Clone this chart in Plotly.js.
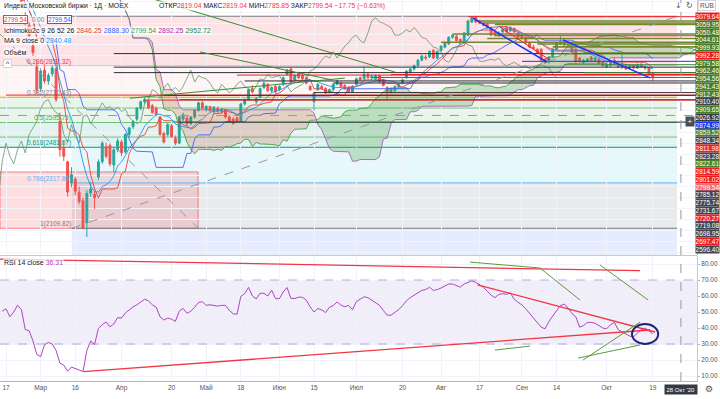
<!DOCTYPE html>
<html><head><meta charset="utf-8">
<script src="https://cdn.plot.ly/plotly-3.0.1.min.js"></script>
<style>html,body{margin:0;padding:0;background:#fff}#chart{width:720px;height:399px}</style>
</head><body><div id="chart"></div>
<script>
// ---------- DATA (daily bars, Feb 17 2020 = bar 0 ... Oct 19 2020 = bar 168) ----------
const barOpen = [3175,3185,3200,3220,3195,3085,3040,2945,2850,2750,
2835,2785,2818,2840,2600,2478,2414,2318,2335,2275,
2236,2135,2272,2265,2345,2415,2484,2490,2400,2470,
2505,2460,2540,2575,2610,2660,2690,2692,2672,2660,
2620,2545,2540,2580,2522,2500,2610,2615,2590,2620,
2650,2685,2655,2668,2645,2660,2645,2650,2620,2610,
2615,2600,2680,2700,2750,2690,2710,2755,2770,2740,
2760,2745,2770,2815,2840,2790,2820,2810,2800,2760,
2690,2745,2760,2750,2735,2745,2770,2775,2765,2755,
2735,2770,2800,2795,2815,2800,2795,2810,2790,2755,
2735,2740,2760,2775,2800,2825,2840,2855,2880,2895,
2895,2925,2890,2925,2940,2955,2985,2990,2975,2960,
2995,3055,3075,3060,3050,3045,3030,3010,2995,3010,
3030,3015,3025,3005,2995,2985,2960,2940,2930,2930,
2885,2870,2895,2930,2955,2965,2950,2940,2930,2890,
2870,2875,2895,2880,2885,2870,2850,2855,2880,2860,
2850,2855,2845,2855,2845,2858,2850,2845,2819.04];
const barHigh = [3195,3212,3232,3236,3205,3100,3055,2965,2882,2842,
2852,2822,2856,2850,2640,2512,2420,2390,2346,2302,
2252,2286,2322,2280,2426,2510,2502,2500,2482,2522,
2516,2545,2575,2605,2665,2695,2708,2700,2680,2668,
2625,2552,2592,2588,2535,2625,2640,2625,2625,2655,
2690,2692,2675,2672,2670,2668,2662,2655,2628,2618,
2622,2685,2705,2750,2765,2712,2755,2780,2775,2760,
2768,2765,2805,2840,2848,2815,2828,2818,2806,2766,
2735,2775,2768,2756,2750,2774,2790,2782,2770,2760,
2765,2800,2806,2850,2822,2815,2815,2815,2795,2760,
2755,2765,2775,2795,2835,2845,2860,2885,2905,2905,
2925,2932,2925,2948,2965,2990,3000,2996,2980,3010,
3065,3080,3081.68,3066,3058,3052,3035,3015,3012,3025,
3036,3035,3030,3010,3000,2990,2965,2950,2935,2936,
2890,2900,2935,2965,2990,2975,2958,2948,2936,2895,
2885,2890,2900,2895,2892,2875,2868,2875,2892,2872,
2906,2862,2858,2862,2865,2868,2855,2848,2819.04];
const barLow = [3160,3175,3190,3190,3140,3040,2980,2900,2728,2735,
2772,2768,2805,2688,2438,2418,2255,2298,2262,2220,
2105,2070,2254,2198,2330,2404,2430,2394,2368,2458,
2440,2452,2528,2565,2600,2650,2680,2655,2635,2622,
2535,2498,2530,2525,2490,2495,2600,2580,2582,2612,
2645,2652,2645,2642,2638,2640,2638,2612,2594,2585,
2595,2598,2672,2695,2728,2680,2705,2748,2735,2730,
2728,2738,2762,2810,2775,2782,2795,2790,2770,2740,
2650,2740,2745,2725,2728,2740,2765,2755,2745,2730,
2730,2765,2785,2790,2795,2790,2790,2775,2760,2700,
2728,2735,2752,2770,2795,2818,2832,2850,2875,2880,
2890,2885,2884,2918,2935,2950,2978,2965,2955,2955,
2990,3050,3050,3045,3035,3025,2990,2990,2988,3005,
3005,3010,3005,2980,2975,2955,2935,2928,2910,2875,
2862,2865,2890,2925,2950,2945,2940,2905,2868,2870,
2862,2870,2875,2875,2860,2850,2845,2850,2855,2845,
2840,2835,2838,2838,2840,2845,2835,2812,2785.85];
const barClose = [3185,3200,3222,3200,3150,3050,2992,2915,2745,2830,
2785,2810,2845,2700,2470,2440,2276,2355,2280,2232,
2112,2270,2290,2250,2414,2500,2440,2405,2470,2510,
2455,2540,2570,2600,2660,2690,2700,2662,2640,2630,
2540,2505,2585,2530,2500,2620,2630,2590,2620,2650,
2685,2660,2668,2650,2665,2645,2655,2620,2600,2590,
2600,2680,2700,2745,2735,2705,2750,2775,2740,2755,
2735,2760,2800,2835,2780,2810,2800,2795,2775,2745,
2730,2770,2750,2730,2745,2770,2785,2760,2750,2735,
2760,2795,2790,2815,2800,2805,2810,2780,2765,2735,
2750,2760,2770,2790,2830,2840,2855,2880,2900,2890,
2920,2890,2920,2945,2960,2985,2995,2970,2960,3005,
3060,3075,3055,3050,3040,3030,2995,2995,3005,3020,
3010,3030,3010,2985,2980,2960,2940,2935,2915,2880,
2870,2895,2930,2960,2965,2950,2945,2910,2875,2875,
2880,2885,2880,2890,2865,2855,2862,2870,2860,2850,
2855,2840,2852,2845,2860,2850,2845,2817.29,2799.54];
const rsiFirstBar = -1;
const rsiValues = [50.5,52.0,47,50,54.2,51.5,39,38.3,32,23.5,22.1,
29.5,31,30,26,18,16.8,13,15.6,14.8,14,
12.8,26,31.9,29.6,39.8,42,43.8,40.8,42.5,46.5,
46.2,49.4,51.5,53.2,54.5,56.2,58,57,54.5,53,
47,45,46.2,45.5,44.2,50.5,52.3,49.2,50.5,53,
56,56.4,54.2,54.5,54,53.7,54.1,54.2,51,48.9,
48.6,59.8,61.5,65.4,60,58.2,61.7,61.7,60,63.7,
58.4,58.3,62.5,65.3,58.5,58.5,59.3,59.2,57.4,53.2,
50,52.2,51.3,49.6,52.9,54,56.3,54.3,53.3,54.1,
51.5,56.5,58,59.5,59,57.5,56,54.2,51,48,
48,49.8,51.5,54,57,59,60.5,62,63.5,64,
65.5,63.5,64,65,66,67.5,67.5,66.5,65.5,67.5,
68.5,69.5,68.5,67,65.5,63,60.5,59,61,61.5,
61,62,58,56,54.5,52,49,46.5,43,40.5,
39.5,44,47.5,51,54,55,52.5,49,47,40.5,
41.5,43.5,43.5,43,41.5,40,39.5,42,43.5,39,
37.5,36,35,34.5,37,39,40,38,36.31];
// x-axis labels
const tickBars = [0,9,18,30,43,52,61,71,80,91,103,113,123,134,143,156,168];
const tickText = ['17','Мар','16','Апр','20','Май','18','Июн','15','Июл','20','Авг','17','Сен','14','Окт','19'];
// Fibonacci retracement (Mar low -> Aug high)
const fibLow = 2109.82, fibHigh = 3081.68, fibFromBar = 17.1, fibToBar = 174.3;
const fibRatios = [0, 0.236, 0.382, 0.5, 0.618, 0.786, 1, 1.618];
// horizontal price levels (price, first bar)
const levelPrices = [3079.64,3059.95,3050.48,3044.61,2999.93,2992.28,2979.58,2962.46,2954.56,2941.43,2912.43,2910.40,2909.65,2874.99,2859.52,2848.34,2811.98,2823.28,2822.61,2814.59,2801.02,2785.12,2775.74,2731.67,2720.27,2719.08,2698.95,2697.47,2596.40];
const levelFrom = [120,122,124,127,116,127,125,113,138,142,150,28,140,134,145,28,60,28,150,100,95,62,85,80,0,40,45,36,45];
const levelKind = ['red','olive','olive','olive','olive','red','olive','olive','olive','olive','olive','dark','green','blue','green','dark','red','dark','green','red','red','dark','dark','dark','red','dark','dark','red','dark'];
// price-scale labels as stacked in the picture
const scaleText = ['3079.64','3059.95','3050.48','3044.61','2999.93','2992.28','2979.58','2962.46','2954.56','2941.43','2912.43','2910.40','2909.65','2626.92','2874.99','2859.52','2848.34','2811.98','2823.28','2822.61','2814.59','2801.02','2799.54','2785.12','2775.74','2731.67','2720.27','2719.08','2698.95','2697.47','2596.40'];
const scaleKind = ['red','green','green','green','green','red','green','green','green','green','green','dark','green','cross','blue','green','dark','red','dark','green','red','red','last','dark','dark','dark','red','dark','dark','red','dark'];
// trend lines in price pane (bar0, price0, bar1, price1)
const trendBar0 = [17.1,-1.56,37.4,50.4,32.2,121.3,144.7,128.3];
const trendP0 = [2109.82,3000,3165,2918,2706,3073.6,2973,3032];
const trendBar1 = [174.3,49.9,101,84.9,88,140.5,167.3,141.3];
const trendP1 = [3081.68,2109.82,2826,2789,2798,2872,2799,2881];
const trendKind = ['grayDash','grayDash','green','green','green','blue','blue','red'];
// trend lines in RSI pane (bar0, value0, bar1, value1)
const rsiLineBar0 = [-1.56,20.1,122.5, 120.5,138.7,154.3,127,148.6,149.9];
const rsiLineV0 = [83.1,12.7,67, 81.2,77.5,79.4,26.2,21.2,20];
const rsiLineBar1 = [164.7,167.3,168.6, 138.7,149.1,166.8,136.1,164.7,164.7];
const rsiLineV1 = [75.8,38.75,37.5, 77.5,57.5,57.5,28.7,29.4,43.7];
const rsiLineKind = ['red','red','red','green','green','green','green','green','green'];
const crossBar = 175.3, crossPrice = 2626.92;

// ---------- STYLES ----------
const FONT = 'Liberation Sans, Arial, sans-serif';
const lineColor = {red:'#f01e23', olive:'#74862f', dark:'#2a2e39', green:'#3d8b2f', blue:'#1a35ff', grayDash:'#9598a1'};
const labelBg = {red:'#f01e23', green:'#4a7d27', dark:'#434651', blue:'#1a35ff', last:'#f46a6f', cross:'#363a45'};
const fibLineColor = ['#787b86','#f23645','#ff9800','#4caf50','#089981','#64b5f6','#787b86','#2962ff'];
const fibZoneColor = ['rgba(242,54,69,0.14)','rgba(242,120,100,0.07)','rgba(76,175,80,0.12)','rgba(8,153,129,0.12)','rgba(0,188,212,0.10)','rgba(120,123,134,0.16)','rgba(41,98,255,0.12)'];

// ---------- INDICATORS ----------
const N = barClose.length;
const bars = barClose.map((_, i) => i);
function donchian(len, i){let hi=-Infinity, lo=Infinity; for(let k=Math.max(0,i-len+1);k<=i;k++){ if(barHigh[k]>hi)hi=barHigh[k]; if(barLow[k]<lo)lo=barLow[k];} return (hi+lo)/2;}
const tenkan = bars.map(i=>donchian(9,i));
const kijun = bars.map(i=>donchian(26,i));
const shift = 25;
const leadX = bars.map(i=>i+shift);
const leadA = bars.map(i=>(tenkan[i]+kijun[i])/2);
const leadB = bars.map(i=>donchian(52,i));
const chikouX = bars.map(i=>i-shift);
const ma9 = bars.map(i=>{const k0=Math.max(0,i-8); let s=0; for(let k=k0;k<=i;k++) s+=barClose[k]; return s/(i-k0+1);});

const traces = [];
(function(){
  let start = 0; const up = i => leadA[i] >= leadB[i];
  for (let i=1;i<=N;i++){
    if (i===N || up(i)!==up(start)){
      const end = Math.min(i, N-1);
      const xs = leadX.slice(start,end+1);
      traces.push({x:xs,y:leadB.slice(start,end+1),mode:'lines',line:{width:0},hoverinfo:'skip',showlegend:false});
      traces.push({x:xs,y:leadA.slice(start,end+1),mode:'lines',line:{width:0},fill:'tonexty',
        fillcolor: up(start)?'rgba(67,160,71,0.28)':'rgba(200,80,60,0.22)',hoverinfo:'skip',showlegend:false});
      start = i;
    }
  }
})();
const ln = (x,y,color,w,yaxis) => ({x,y,mode:'lines',line:{color,width:w||1},hoverinfo:'skip',showlegend:false,yaxis:yaxis||'y'});
traces.push(ln(leadX,leadA,'rgba(67,160,71,0.9)'));
traces.push(ln(leadX,leadB,'rgba(156,90,190,0.85)'));
traces.push(ln(chikouX,barClose,'rgba(100,150,110,0.8)'));
traces.push(ln(bars,kijun,'rgba(61,90,254,0.85)'));
traces.push(ln(bars,tenkan,'rgba(229,57,53,0.85)'));
traces.push(ln(bars,ma9,'rgba(33,150,243,0.9)'));
traces.push({type:'candlestick',x:bars,open:barOpen,high:barHigh,low:barLow,close:barClose,
  increasing:{line:{color:'#26a69a',width:1},fillcolor:'#26a69a'},
  decreasing:{line:{color:'#ef5350',width:1},fillcolor:'#ef5350'},
  whiskerwidth:0,hoverinfo:'skip',showlegend:false});
traces.push(ln(rsiValues.map((_,k)=>k+rsiFirstBar),rsiValues,'#ab47bc',1,'y2'));

// ---------- SHAPES ----------
const shapes = [];
const xr = [-1.56, 179.48];
const fibP = r => fibHigh - r*(fibHigh-fibLow);
for (let k=0;k<fibRatios.length-1;k++){
  const left = k<4 ? xr[0] : fibFromBar;
  shapes.push({type:'rect',layer:'below',xref:'x',yref:'y',x0:left,x1:fibToBar,y0:fibP(fibRatios[k]),y1:fibP(fibRatios[k+1]),fillcolor:fibZoneColor[k],line:{width:0}});
}
shapes.push({type:'rect',layer:'below',xref:'x',yref:'y',x0:xr[0],x1:49.9,y0:2368,y1:fibLow,fillcolor:'rgba(242,54,69,0.16)',line:{color:'rgba(242,54,69,0.6)',width:1}});
fibRatios.forEach((r,k)=>{
  const left = (k>=1 && k<=4) ? xr[0] : fibFromBar;
  shapes.push({type:'line',layer:'below',xref:'x',yref:'y',x0:left,x1:fibToBar,y0:fibP(r),y1:fibP(r),line:{color:fibLineColor[k],width:1}});
});
[2661,2528].forEach(p=>shapes.push({type:'line',layer:'below',xref:'x',yref:'y',x0:xr[0],x1:fibToBar,y0:p,y1:p,line:{color:'rgba(76,175,80,0.7)',width:1}}));
levelPrices.forEach((p,k)=>{
  shapes.push({type:'line',xref:'x',yref:'y',x0:levelFrom[k],x1:xr[1],y0:p,y1:p,line:{color:lineColor[levelKind[k]],width:levelKind[k]==='olive'?1.6:1}});
});
trendBar0.forEach((b,k)=>{
  const kind = trendKind[k];
  shapes.push({type:'line',xref:'x',yref:'y',x0:b,y0:trendP0[k],x1:trendBar1[k],y1:trendP1[k],
    line:{color:lineColor[kind],width:kind==='blue'?1.5:1,dash:kind==='grayDash'?'dash':'solid'}});
});
shapes.push({type:'rect',layer:'below',xref:'paper',yref:'y2',x0:0,x1:1,y0:30,y1:70,fillcolor:'rgba(126,87,194,0.10)',line:{width:0}});
[70,30].forEach(v=>shapes.push({type:'line',xref:'paper',yref:'y2',x0:0,x1:1,y0:v,y1:v,line:{color:'rgba(149,117,205,0.6)',width:1,dash:'dash'}}));
rsiLineBar0.forEach((b,k)=>shapes.push({type:'line',xref:'x',yref:'y2',x0:b,y0:rsiLineV0[k],x1:rsiLineBar1[k],y1:rsiLineV1[k],
  line:{color:rsiLineKind[k]==='red'?'#f23645':'#5b9a3c',width:rsiLineKind[k]==='red'?1.3:1}}));
shapes.push({type:'circle',xref:'x',yref:'y2',x0:162.6,x1:169.4,y0:30,y1:42.5,line:{color:'#1a237e',width:2}});
shapes.push({type:'line',xref:'paper',yref:'paper',x0:0,x1:1,y0:1-255.5/381,y1:1-255.5/381,line:{color:'#c8cbd3',width:1}});
shapes.push({type:'line',xref:'x',yref:'paper',x0:crossBar,x1:crossBar,y0:0,y1:1,line:{color:'#9598a1',width:1,dash:'dash'}});
shapes.push({type:'line',xref:'paper',yref:'y',x0:0,x1:1,y0:crossPrice,y1:crossPrice,line:{color:'#9598a1',width:1,dash:'dash'}});

// ---------- ANNOTATIONS ----------
const ann = [];
const px = v => v/697, py = v => 1 - v/381;
scaleText.forEach((t,k)=>{
  ann.push({xref:'paper',yref:'paper',x:1,xanchor:'left',xshift:-2,y:py(16.7+7.75*k),yanchor:'middle',text:t,showarrow:false,
    bgcolor:labelBg[scaleKind[k]],font:{family:FONT,size:6.5,color:'#fff'},width:23,height:7,borderpad:0});
});
ann.push({xref:'paper',yref:'paper',x:px(690),xanchor:'center',y:py(116),text:'+',showarrow:false,bgcolor:'#4a4e59',font:{family:FONT,size:8,color:'#fff'},width:8,height:9,borderpad:0});
const fibLblColor = ['#787b86','#f23645','#787b86','#4caf50','#089981','#64b5f6','#787b86'];
fibRatios.forEach((r,k)=>{
  if (k<1 || k>6) return;  // level 0 label sits under the legend
  ann.push({xref:'x',yref:'y',x:fibFromBar,xanchor:'right',y:fibP(r),yanchor:'bottom',text:r+'('+fibP(r).toFixed(2)+')',showarrow:false,
    font:{family:FONT,size:6.5,color:fibLblColor[k]},borderpad:0,yshift:-1});
});
const leg = (x,y,text,opt) => ann.push(Object.assign({xref:'paper',yref:'paper',x:px(x),xanchor:'left',y:py(y),yanchor:'middle',text,showarrow:false,
  font:{family:FONT,size:7,color:'#131722'},bgcolor:'rgba(255,255,255,0.75)',borderpad:0},opt||{}));
leg(3,5.5,'Индекс Московской биржи · 1Д · MOEX',{font:{family:FONT,size:6.8,color:'#131722'}});
leg(158,5.5,'ОТКР<span style="color:#f23645">2819.04</span> МАКС<span style="color:#f23645">2819.04</span> МИН<span style="color:#f23645">2785.85</span> ЗАКР<span style="color:#f23645">2799.54 −17.75 (−0.63%)</span>',{font:{family:FONT,size:6.8,color:'#131722'}});
leg(3,19.5,'2799.54',{font:{family:FONT,size:6.3,color:'#f23645'},bordercolor:'#f23645',bgcolor:'#fff'});
leg(31,19.5,'0.00',{font:{family:FONT,size:6.3,color:'#787b86'}});
leg(47,19.5,'2799.54',{font:{family:FONT,size:6.3,color:'#2962ff'},bordercolor:'#2962ff',bgcolor:'#fff'});
leg(3,30.5,'Ichimoku2c 9 26 52 26 <span style="color:#e53935">2846.25</span> <span style="color:#3d5afe">2888.30</span> <span style="color:#43a047">2799.54</span> <span style="color:#9c27b0">2892.25</span> <span style="color:#2e7d32">2952.72</span>');
leg(3,41,'MA 9 close 0 <span style="color:#2196f3">2840.48</span>');
leg(3,52,'Объём');
leg(3,63,' ^ ',{bordercolor:'#d1d4dc',bgcolor:'#fff'});
leg(3,262,'RSI 14 close <span style="color:#ab47bc">36.31</span>');
ann.push({xref:'paper',yref:'paper',x:px(681),xanchor:'center',y:-(389-381)/381,yanchor:'middle',text:"28 Окт '20",showarrow:false,bgcolor:'#363a45',font:{family:FONT,size:6,color:'#fff'},borderpad:1.5});
ann.push({xref:'paper',yref:'paper',x:px(709),xanchor:'center',y:-(389-381)/381,yanchor:'middle',text:'⚙',showarrow:false,font:{family:'DejaVu Sans',size:9,color:'#50535e'}});
ann.push({xref:'paper',yref:'paper',x:1,xanchor:'left',xshift:1,y:py(6),yanchor:'middle',text:'RUB',showarrow:false,font:{family:FONT,size:6.5,color:'#50535e'},bordercolor:'#d1d4dc',borderpad:1});
ann.push({xref:'paper',yref:'paper',x:px(678),xanchor:'center',y:py(6),yanchor:'middle',text:'↓',showarrow:false,font:{family:'DejaVu Sans',size:8,color:'#50535e'}});
ann.push({xref:'paper',yref:'paper',x:px(689),xanchor:'center',y:py(6),yanchor:'middle',text:'↻',showarrow:false,font:{family:'DejaVu Sans',size:8,color:'#50535e'}});

const layout = {
  width:720,height:399,margin:{l:0,r:23,t:0,b:18},paper_bgcolor:'#fff',plot_bgcolor:'#fff',showlegend:false,
  font:{family:FONT,size:7,color:'#50535e'},
  xaxis:{type:'linear',range:xr,anchor:'y2',tickvals:tickBars,ticktext:tickText,tickfont:{size:6.5,color:'#50535e'},
    showgrid:true,gridcolor:'#f0f3fa',zeroline:false,showline:true,linecolor:'#b2b5be',ticks:'',rangeslider:{visible:false},fixedrange:true},
  yaxis:{domain:[1-255/381,1],range:[1987.4,3156.1],side:'right',showticklabels:false,showgrid:true,gridcolor:'#f3f4f8',dtick:50,
    zeroline:false,showline:true,linecolor:'#c8cbd3',ticks:''},
  yaxis2:{domain:[0,125/381],range:[6.875,85],side:'right',tickvals:[10,20,30,40,50,60,70,80],ticktext:['10.00','20.00','30.00','40.00','50.00','60.00','70.00','80.00'],
    tickfont:{size:6.5,color:'#50535e'},showgrid:true,gridcolor:'#f0f3fa',zeroline:false,showline:true,linecolor:'#c8cbd3',ticks:'outside',ticklen:2,tickcolor:'#b2b5be'},
  shapes, annotations:ann
};
Plotly.newPlot('chart',traces,layout,{staticPlot:true,displayModeBar:false});
</script></body></html>
